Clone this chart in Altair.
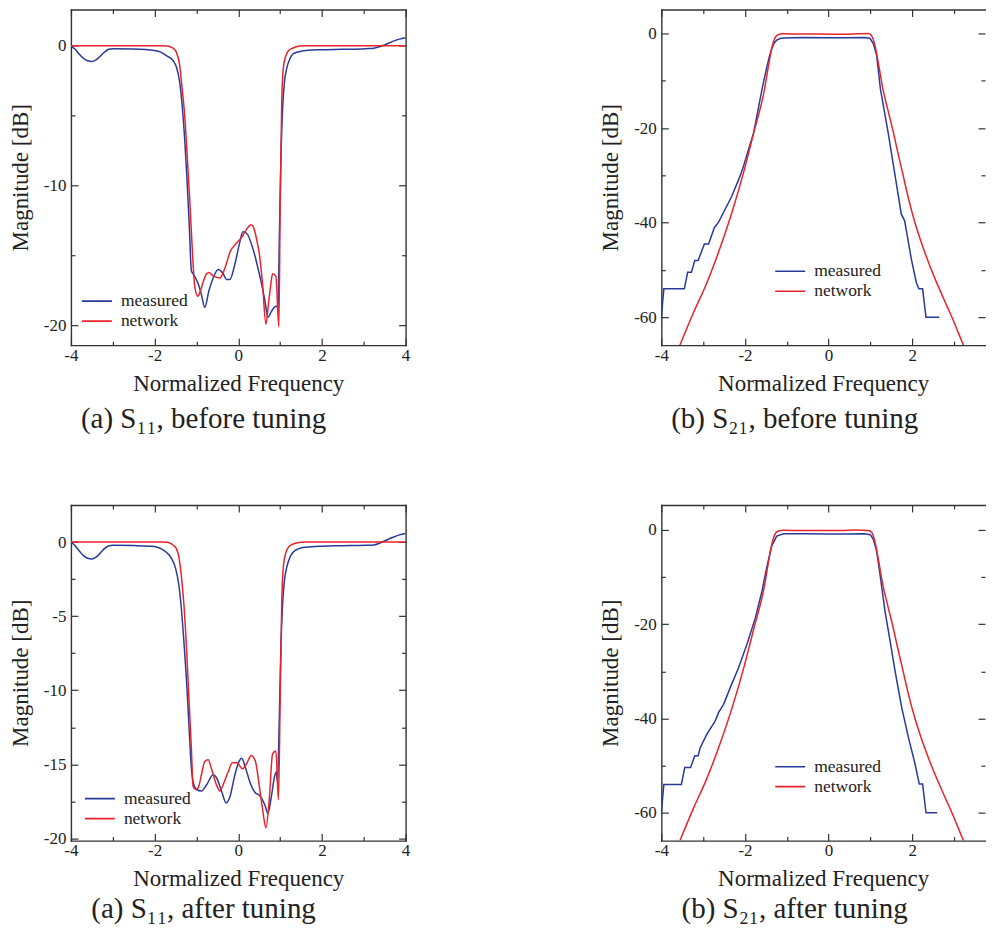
import altair as alt
import pandas as pd

# ---------------- data ----------------
FREQ_TICKS = [-4, -3, -2, -1, 0, 1, 2, 3, 4]
S11_BEFORE_TICKS = [-20, -15, -10, -5, 0]
S11_AFTER_TICKS = [-20, -17.5, -15, -12.5, -10, -7.5, -5, -2.5, 0]
S21_TICKS = [-60, -50, -40, -30, -20, -10, 0]
SERIES = ["measured", "network"]

# (a) S11 before tuning
s11b_meas_x = [-4.0, -3.9, -3.8, -3.7, -3.6, -3.5, -3.4, -3.3, -3.2, -3.1, -3.0, -2.5, -2.0, -1.85,
               -1.72, -1.56, -1.48, -1.40, -1.34, -1.28, -1.23, -1.17, -1.12, -1.08, -1.02, -0.96,
               -0.88, -0.80, -0.70, -0.60, -0.48, -0.36, -0.28, -0.20, -0.08, 0.04, 0.11, 0.20, 0.35,
               0.51, 0.63, 0.71, 0.79, 0.86, 0.93, 0.95, 0.98, 1.02, 1.06, 1.10, 1.16, 1.24, 1.30,
               1.45, 1.62, 2.0, 2.5, 3.05, 3.24, 3.44, 3.68, 3.85, 4.0]
s11b_meas_y = [0.0, -0.25, -0.6, -0.9, -1.07, -1.12, -1.0, -0.75, -0.45, -0.25, -0.2, -0.22, -0.33,
               -0.45, -0.7, -1.05, -1.5, -2.6, -4.3, -6.7, -9.3, -12.9, -16.1, -16.3, -16.6, -17.0,
               -17.8, -18.7, -17.5, -16.6, -16.0, -16.3, -16.7, -16.7, -15.6, -14.0, -13.3, -13.4,
               -14.5, -16.4, -18.1, -19.4, -19.0, -18.7, -18.6, -19.0, -14.0, -8.0, -4.5, -2.7, -1.6,
               -0.9, -0.6, -0.42, -0.33, -0.28, -0.25, -0.2, -0.17, 0.0, 0.3, 0.48, 0.57]
s11b_net_x = [-4.0, -1.8, -1.7, -1.62, -1.56, -1.48, -1.40, -1.34, -1.28, -1.23, -1.16, -1.10, -1.04,
              -0.97, -0.94, -0.84, -0.76, -0.70, -0.62, -0.56, -0.44, -0.32, -0.19, -0.04, 0.08, 0.16,
              0.24, 0.31, 0.39, 0.45, 0.51, 0.58, 0.66, 0.72, 0.78, 0.82, 0.90, 0.97, 1.00, 1.04, 1.08,
              1.14, 1.20, 1.30, 1.46, 1.60, 4.0]
s11b_net_y = [0.0, 0.0, -0.02, -0.08, -0.17, -0.45, -1.4, -3.1, -5.0, -7.4, -11.0, -14.5, -17.2,
              -17.9, -17.8, -16.9, -16.3, -16.2, -16.4, -16.5, -16.6, -15.9, -14.7, -14.1, -13.7, -13.3,
              -12.95, -12.8, -13.2, -14.0, -15.0, -17.0, -19.9, -18.5, -17.0, -16.3, -16.5, -20.1, -12.0,
              -3.8, -1.5, -0.7, -0.35, -0.17, -0.02, 0.0, 0.0]

# (b) S21 before tuning
s21b_meas_x = [-4.0, -3.94, -3.45, -3.37, -3.28, -3.20, -3.12, -2.97, -2.87, -2.73, -2.63, -2.51, -2.31,
               -2.11, -2.03, -1.79, -1.59, -1.50, -1.42, -1.36, -1.30, -1.24, -1.16, -1.08, -0.6, 0.0,
               0.5, 0.85, 0.99, 1.07, 1.15, 1.24, 1.31, 1.43, 1.59, 1.74, 1.82, 1.98, 2.10, 2.16, 2.25,
               2.33, 2.65]
s21b_meas_y = [-60.0, -54.0, -54.0, -50.5, -50.5, -48.0, -48.0, -44.5, -44.5, -41.0, -39.9, -37.8, -34.3,
               -30.0, -27.9, -20.9, -11.7, -8.0, -5.0, -3.2, -2.0, -1.4, -1.05, -0.95, -0.85, -0.9,
               -0.9, -0.85, -1.0, -2.1, -4.6, -11.7, -15.2, -21.2, -30.0, -38.2, -39.6, -47.7, -52.7,
               -54.0, -54.0, -60.0, -60.0]
s21b_net_x = [-3.56, -3.23, -2.91, -2.59, -2.31, -2.03, -1.79, -1.53, -1.45, -1.38, -1.32, -1.26, -1.18,
              -1.10, -0.6, -0.2, 0.3, 0.7, 0.95, 1.03, 1.11, 1.19, 1.30, 1.42, 1.545, 1.66, 1.784, 1.92,
              2.06, 2.20, 2.34, 2.52, 2.70, 2.84, 2.98, 3.10, 3.23]
s21b_net_y = [-66.0, -59.0, -52.7, -45.2, -37.8, -29.3, -21.0, -11.7, -7.5, -4.0, -1.8, -0.6, -0.15,
              -0.05, -0.1, -0.1, -0.15, -0.05, 0.0, -0.5, -2.5, -6.2, -11.7, -16.2, -20.7, -25.3, -30.0,
              -35.2, -39.8, -43.7, -47.2, -51.3, -55.0, -57.8, -60.6, -63.2, -66.0]

# (a) S11 after tuning
s11a_meas_x = [-4.0, -3.9, -3.8, -3.7, -3.6, -3.5, -3.4, -3.3, -3.2, -3.1, -3.0, -2.5, -2.0, -1.85,
               -1.7, -1.6, -1.5, -1.42, -1.36, -1.30, -1.24, -1.18, -1.12, -1.06, -1.00, -0.88, -0.76,
               -0.60, -0.52, -0.40, -0.29, -0.20, -0.08, 0.02, 0.08, 0.18, 0.29, 0.40, 0.51, 0.63,
               0.71, 0.79, 0.87, 0.91, 0.94, 0.98, 1.02, 1.06, 1.10, 1.16, 1.24, 1.30, 1.45, 1.62,
               2.0, 2.5, 3.05, 3.24, 3.44, 3.68, 3.85, 4.0]
s11a_meas_y = [0.0, -0.25, -0.6, -0.92, -1.1, -1.15, -1.02, -0.75, -0.45, -0.27, -0.22, -0.24, -0.3,
               -0.45, -0.74, -1.08, -1.76, -2.9, -4.5, -6.7, -9.2, -12.3, -15.3, -16.4, -16.7, -16.8,
               -16.4, -15.7, -15.9, -16.8, -17.6, -17.2, -15.7, -14.8, -14.6, -15.3, -16.3, -16.9,
               -17.1, -17.7, -18.3, -17.2, -15.8, -15.5, -16.2, -12.0, -7.0, -4.2, -2.7, -1.7, -1.0,
               -0.72, -0.45, -0.35, -0.28, -0.25, -0.22, -0.2, 0.0, 0.3, 0.48, 0.58]
s11a_net_x = [-4.0, -1.8, -1.7, -1.64, -1.56, -1.48, -1.42, -1.36, -1.30, -1.24, -1.18, -1.12, -1.08,
              -1.02, -0.96, -0.88, -0.80, -0.72, -0.64, -0.52, -0.44, -0.35, -0.24, -0.14, -0.03, 0.10,
              0.21, 0.31, 0.41, 0.50, 0.59, 0.66, 0.74, 0.82, 0.90, 0.96, 1.00, 1.04, 1.08, 1.14, 1.20,
              1.30, 1.46, 1.60, 4.0]
s11a_net_y = [0.0, 0.0, -0.02, -0.07, -0.2, -0.45, -1.0, -2.3, -4.2, -7.0, -10.5, -14.0, -16.5,
              -16.7, -16.6, -15.7, -14.8, -14.7, -15.3, -16.4, -16.8, -16.3, -15.5, -14.9, -14.9, -15.3,
              -14.9, -14.4, -14.8, -16.4, -18.2, -19.3, -17.4, -14.3, -14.1, -17.4, -11.0, -4.0, -1.6,
              -0.7, -0.35, -0.15, -0.03, 0.0, 0.0]

# (b) S21 after tuning
s21a_meas_x = [-4.0, -3.94, -3.52, -3.44, -3.30, -3.20, -3.12, -3.07, -2.91, -2.71, -2.63, -2.51, -2.35,
               -2.15, -1.95, -1.75, -1.59, -1.48, -1.36, -1.24, -1.08, -0.6, 0.0, 0.5, 0.85, 1.0, 1.07,
               1.15, 1.23, 1.35, 1.47, 1.59, 1.75, 1.91, 2.07, 2.17, 2.25, 2.33, 2.60]
s21a_meas_y = [-60.0, -54.0, -54.0, -50.4, -50.4, -47.9, -47.9, -46.2, -43.3, -40.5, -38.7, -37.0, -33.4,
               -29.2, -24.2, -18.6, -12.9, -8.0, -3.4, -1.3, -0.8, -0.8, -0.85, -0.85, -0.8, -1.0, -2.0,
               -4.5, -9.4, -17.2, -23.5, -29.9, -37.7, -44.0, -49.7, -53.9, -53.9, -60.0, -60.0]
s21a_net_x = [-3.56, -3.23, -2.91, -2.59, -2.31, -2.03, -1.79, -1.53, -1.45, -1.38, -1.32, -1.26, -1.18,
              -1.10, -0.6, -0.2, 0.3, 0.65, 0.95, 1.03, 1.11, 1.19, 1.30, 1.42, 1.545, 1.66, 1.784, 1.92,
              2.06, 2.20, 2.34, 2.52, 2.70, 2.84, 2.98, 3.10, 3.23]
s21a_net_y = [-66.0, -59.0, -52.7, -45.2, -37.8, -29.3, -21.0, -11.7, -7.5, -4.0, -1.8, -0.6, -0.15,
              -0.08, -0.12, -0.1, -0.12, -0.02, -0.1, -0.5, -2.5, -6.2, -11.7, -16.2, -20.7, -25.3, -30.0,
              -35.2, -39.8, -43.7, -47.2, -51.3, -55.0, -57.8, -60.6, -63.2, -66.0]

# ---------------- styling ----------------
BLUE = "#2a3a9a"
RED = "#e8232b"
SERIF = "Liberation Serif"
INK = "#222222"
FRAME = "#333333"


def series_df(xs, ys, name):
    return pd.DataFrame({"f": xs, "mag": ys, "series": name, "i": range(len(xs))})


def major(step):
    return f"abs(datum.value % {step}) < 1e-6"


LABEL = "(datum.value < 0 ? '-' : '') + abs(datum.value)"
AX = dict(labelFont=SERIF, labelFontSize=17, labelColor=INK, titleFont=SERIF, titleFontSize=23,
          titleFontWeight="normal", titleColor=INK, tickColor=FRAME, tickWidth=1.2, grid=False,
          domainColor=FRAME, domainWidth=1.4, domainCap="square")


def panel(mx, my, nx, ny, xmax, width, ydom, yticks, ystep, leg_xy, caption, smooth_net,
          right_frame, cap_offset, cap_dx):
    xs = alt.Scale(domain=[-4, xmax], nice=False, zero=False)
    ys = alt.Scale(domain=ydom, nice=False, zero=False)
    xvals = [v for v in FREQ_TICKS if v <= xmax]
    xtick = {"expr": f"{major(2)} ? -7 : -4"}
    ytick = {"expr": f"{major(ystep)} ? -7 : -4"}
    x_axis = alt.Axis(values=xvals, title="Normalized Frequency",
                      labelExpr=f"{major(2)} ? {LABEL} : ''", tickSize=xtick,
                      labelPadding=9, titlePadding=6, domain=True,
                      labelFlush=False, labelOverlap=False, **AX)
    y_axis = alt.Axis(values=yticks, title="Magnitude [dB]",
                      labelExpr=f"{major(ystep)} ? {LABEL} : ''", tickSize=ytick,
                      labelPadding=12, titlePadding=11, domain=True,
                      labelFlush=False, labelOverlap=False, **AX)
    x_top = alt.Axis(orient="top", values=xvals, title=None, labels=False,
                     tickSize=xtick, domain=True, **AX)
    y_right = alt.Axis(orient="right", values=yticks, title=None, labels=False,
                       tickSize=ytick, domain=right_frame, **AX)
    color = alt.Color("series:N", scale=alt.Scale(domain=SERIES, range=[BLUE, RED]),
                      legend=alt.Legend(orient="none", legendX=leg_xy[0], legendY=leg_xy[1],
                                        title=None, symbolType="stroke", symbolSize=900,
                                        symbolStrokeWidth=1.6, labelFont=SERIF, labelFontSize=17.5,
                                        labelColor=INK, clipHeight=20, rowPadding=0,
                                        labelOffset=8, padding=0))
    meas = alt.Chart(series_df(mx, my, "measured")).mark_line(
        strokeWidth=1.5, clip=True, interpolate="linear" if smooth_net else "monotone").encode(
        x=alt.X("f:Q", scale=xs, axis=x_axis),
        y=alt.Y("mag:Q", scale=ys, axis=y_axis),
        color=color, order="i:Q")
    net = alt.Chart(series_df(nx, ny, "network")).mark_line(
        strokeWidth=1.5, clip=True, interpolate="monotone").encode(
        x=alt.X("f:Q", scale=xs, axis=None),
        y=alt.Y("mag:Q", scale=ys, axis=None),
        color=color, order="i:Q")
    frame = alt.Chart(series_df(nx, ny, "network")).mark_point(opacity=0, size=1, clip=True).encode(
        x=alt.X("f:Q", scale=xs, axis=x_top),
        y=alt.Y("mag:Q", scale=ys, axis=y_right))
    return alt.layer(meas, net, frame).resolve_axis(x="independent", y="independent").properties(
        width=width, height=336,
        title=alt.TitleParams(caption, orient="bottom", font=SERIF, fontSize=29,
                              fontWeight="normal", color=INK, offset=cap_offset,
                              anchor="middle", frame="bounds", dx=cap_dx))


RIGHT_W = 324
RIGHT_XMAX = -4 + RIGHT_W / 41.85

p1 = panel(s11b_meas_x, s11b_meas_y, s11b_net_x, s11b_net_y, 4, 335, [-21.4, 2.6], S11_BEFORE_TICKS,
           10, (10, 282), "(a) S₁₁, before tuning", False, True, 10, -6)
p2 = panel(s21b_meas_x, s21b_meas_y, s21b_net_x, s21b_net_y, RIGHT_XMAX, RIGHT_W, [-65.9, 5.1],
           S21_TICKS, 20, (113, 252), "(b) S₂₁, before tuning", True, False, 10, 2)
p3 = panel(s11a_meas_x, s11a_meas_y, s11a_net_x, s11a_net_y, 4, 335, [-20.15, 2.5], S11_AFTER_TICKS,
           5, (13, 284), "(a) S₁₁, after tuning", False, True, 4, -6)
p4 = panel(s21a_meas_x, s21a_meas_y, s21a_net_x, s21a_net_y, RIGHT_XMAX, RIGHT_W, [-65.9, 5.3],
           S21_TICKS, 20, (113, 252), "(b) S₂₁, after tuning", True, False, 4, 2)

row1 = alt.hconcat(p1, p2, spacing=189).resolve_scale(color="independent").resolve_legend(color="independent")
row2 = alt.hconcat(p3, p4, spacing=189).resolve_scale(color="independent").resolve_legend(color="independent")

chart = alt.vconcat(row1, row2, spacing=70).resolve_scale(color="independent").resolve_legend(
    color="independent").properties(
    padding={"left": 1, "top": 0, "right": 0, "bottom": 0}
).configure_view(stroke=None)

chart.save("out.html", embed_options={"renderer": "svg", "actions": False})
